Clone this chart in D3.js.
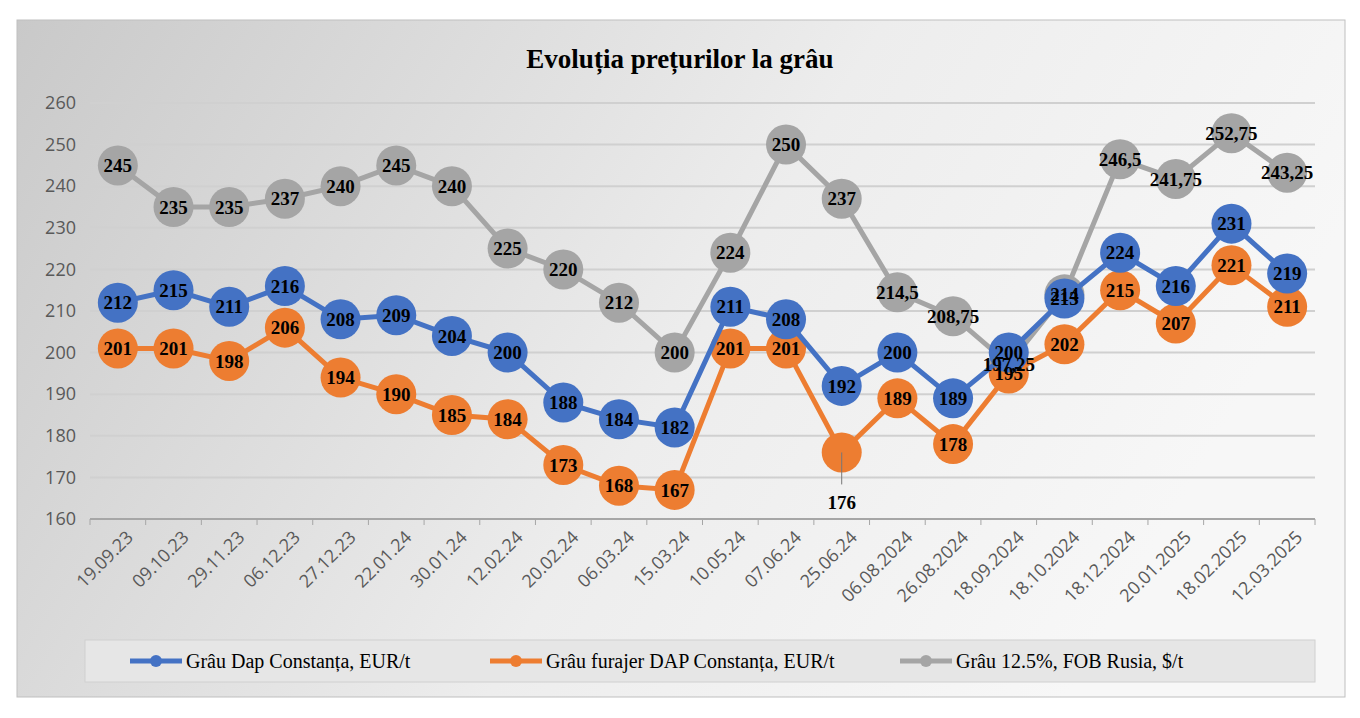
<!DOCTYPE html>
<meta charset="utf-8">
<style>
	body { margin: 0; background: #fff; }
	.axis path, .axis line { display: none; }
	.axis text { fill: #595959; font: 18px "Open Sans", sans-serif; }
	.lbl { font: bold 19px "Liberation Serif", serif; fill: #000; }
</style>
<svg width="1360" height="718"></svg>
<script src="https://cdn.jsdelivr.net/npm/d3@7"></script>
<script>

var dates = ["19.09.23","09.10.23","29.11.23","06.12.23","27.12.23","22.01.24","30.01.24","12.02.24","20.02.24","06.03.24","15.03.24","10.05.24","07.06.24","25.06.24","06.08.2024","26.08.2024","18.09.2024","18.10.2024","18.12.2024","20.01.2025","18.02.2025","12.03.2025"];
var dapConstanta = [212,215,211,216,208,209,204,200,188,184,182,211,208,192,200,189,200,213,224,216,231,219];
var furajerConstanta = [201,201,198,206,194,190,185,184,173,168,167,201,201,176,189,178,195,202,215,207,221,211];
var fobRusia = [245,235,235,237,240,245,240,225,220,212,200,224,250,237,214.5,208.75,197.25,214,246.5,241.75,252.75,243.25];
var seriesNames = ["Grâu Dap Constanța, EUR/t","Grâu furajer DAP Constanța, EUR/t","Grâu 12.5%, FOB Rusia, $/t"];
var yTicks = [160,170,180,190,200,210,220,230,240,250,260];

var series = [
	{name: seriesNames[2], values: fobRusia, color: "#a5a5a5"},
	{name: seriesNames[1], values: furajerConstanta, color: "#ed7d31"},
	{name: seriesNames[0], values: dapConstanta, color: "#4472c4"}
];

var svg = d3.select("svg");
var defs = svg.append("defs");
var grad = defs.append("linearGradient").attr("id", "bg")
	.attr("x1", "0").attr("y1", "0").attr("x2", "1").attr("y2", "0.3");
grad.append("stop").attr("offset", "0").attr("stop-color", "#c9c9c9");
grad.append("stop").attr("offset", "0.6").attr("stop-color", "#ededed");
grad.append("stop").attr("offset", "1").attr("stop-color", "#f7f7f7");

svg.append("rect").attr("x", 17).attr("y", 20).attr("width", 1328).attr("height", 677)
	.attr("fill", "url(#bg)").attr("stroke", "#bfbfbf");

svg.append("text").attr("x", 680).attr("y", 68).attr("text-anchor", "middle")
	.style("font", "bold 27px 'Liberation Serif', serif").text("Evoluția prețurilor la grâu");

var x = d3.scaleBand().domain(dates).range([90, 1315]),
	y = d3.scaleLinear().domain([160, 260]).range([519, 103]);
var cx = function(i) { return x(dates[i]) + x.bandwidth() / 2; };

svg.append("g").selectAll("line").data(yTicks).enter().append("line")
	.attr("x1", 90).attr("x2", 1315)
	.attr("y1", function(d) { return y(d); }).attr("y2", function(d) { return y(d); })
	.attr("stroke", function(d) { return d == 160 ? "#a6a6a6" : "#d0d0d0"; })
	.attr("stroke-width", 2);

svg.append("g").attr("class", "axis").attr("transform", "translate(76,0)")
	.call(d3.axisLeft(y).tickValues(yTicks).tickSize(0).tickPadding(0));

var xa = svg.append("g").attr("class", "axis").attr("transform", "translate(0,534)")
	.call(d3.axisBottom(x).tickSize(0).tickPadding(0));
xa.selectAll("text").attr("text-anchor", "end").attr("dy", "0.35em")
	.attr("transform", "translate(12,0) rotate(-45)");
svg.append("g").selectAll("line").data(dates.concat([""])).enter().append("line")
	.attr("x1", function(d, i) { return 90 + i * x.step(); })
	.attr("x2", function(d, i) { return 90 + i * x.step(); })
	.attr("y1", 519).attr("y2", 525).attr("stroke", "#a6a6a6");

var line = d3.line().x(function(d, i) { return cx(i); }).y(function(d) { return y(d); });
var fmt = function(v) { return String(v).replace(".", ","); };

series.forEach(function(s) {
	svg.append("path").attr("d", line(s.values)).attr("fill", "none")
		.attr("stroke", s.color).attr("stroke-width", 5);
	svg.append("g").selectAll("circle").data(s.values).enter().append("circle")
		.attr("cx", function(d, i) { return cx(i); }).attr("cy", function(d) { return y(d); })
		.attr("r", 20).attr("fill", s.color);
});
series.forEach(function(s) {
	svg.append("g").selectAll("text").data(s.values).enter().append("text")
		.attr("class", "lbl").attr("text-anchor", "middle").attr("dy", "0.35em")
		.attr("x", function(d, i) { return cx(i); })
		.attr("y", function(d, i) { return s.values === furajerConstanta && i == 13 ? y(d) + 50 : y(d); })
		.text(function(d) { return fmt(d); });
});
// leader line for the 176 label
svg.append("line").attr("x1", cx(13)).attr("x2", cx(13))
	.attr("y1", y(176)).attr("y2", y(176) + 32).attr("stroke", "#777");

// legend
svg.append("rect").attr("x", 85).attr("y", 640).attr("width", 1230).attr("height", 42)
	.attr("fill", "#e6e6e6").attr("stroke", "#d0d0d0");
var lx = [130, 490, 900];
[series[2], series[1], series[0]].forEach(function(s, i) {
	var lg = svg.append("g").attr("transform", "translate(" + lx[i] + ",661)");
	lg.append("line").attr("x1", 0).attr("x2", 52).attr("stroke", s.color).attr("stroke-width", 5);
	lg.append("circle").attr("cx", 26).attr("r", 6).attr("fill", s.color);
	lg.append("text").attr("x", 56).attr("dy", "0.35em")
		.style("font", "20px 'Liberation Serif', serif").text(s.name);
});

</script>
